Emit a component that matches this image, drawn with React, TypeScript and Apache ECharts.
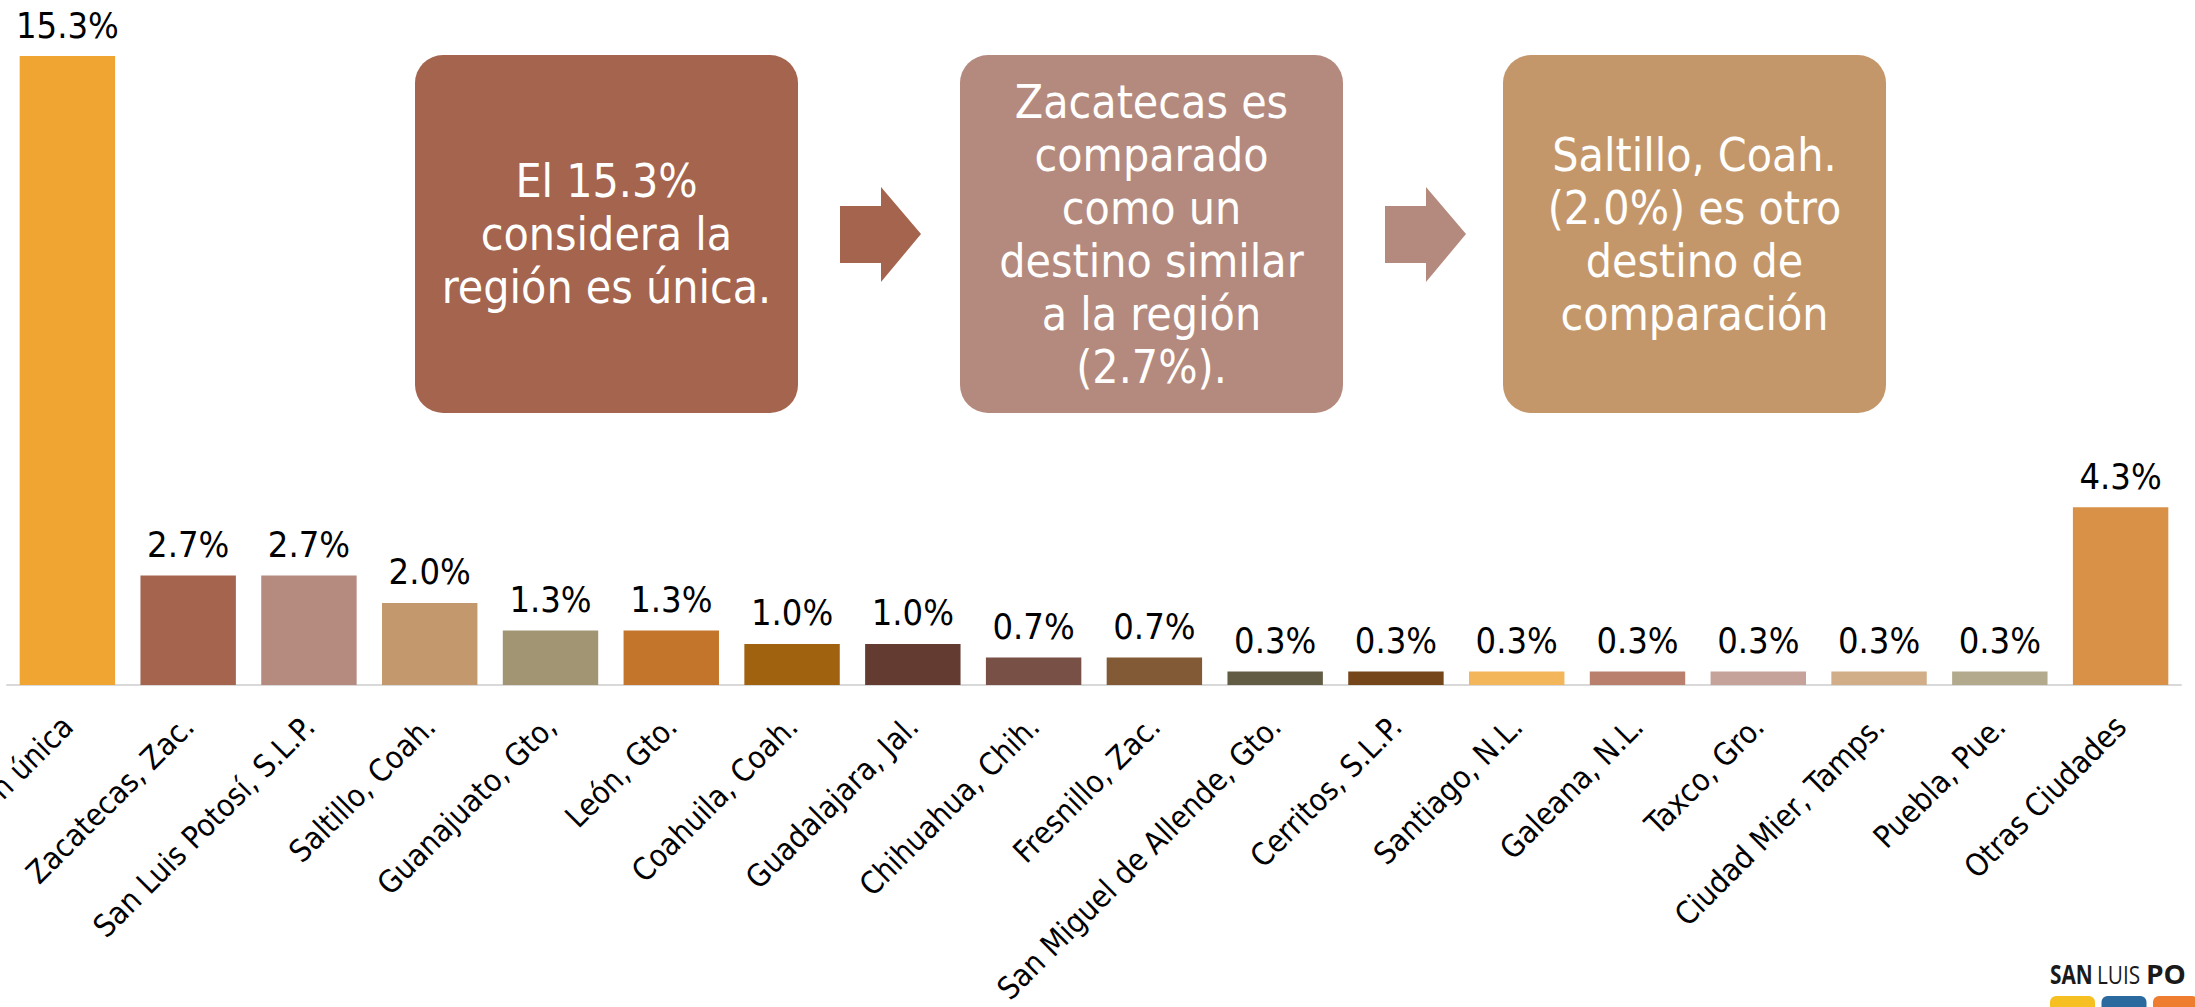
import React, { useEffect, useRef } from "react";
import * as echarts from "echarts";

const categories = [
  "Región única",
  "Zacatecas, Zac.",
  "San Luis Potosí, S.L.P.",
  "Saltillo, Coah.",
  "Guanajuato, Gto,",
  "León, Gto.",
  "Coahuila, Coah.",
  "Guadalajara, Jal.",
  "Chihuahua, Chih.",
  "Fresnillo, Zac.",
  "San Miguel de Allende, Gto.",
  "Cerritos, S.L.P.",
  "Santiago, N.L.",
  "Galeana, N.L.",
  "Taxco, Gro.",
  "Ciudad Mier, Tamps.",
  "Puebla, Pue.",
  "Otras Ciudades",
];

const values = [
  15.33, 2.67, 2.67, 2.0, 1.33, 1.33, 1.0, 1.0, 0.67, 0.67, 0.33, 0.33, 0.33,
  0.33, 0.33, 0.33, 0.33, 4.33,
];

const barColors = [
  "#F0A431",
  "#A5644E",
  "#B58A7F",
  "#C4986D",
  "#A29574",
  "#C3762B",
  "#A0620E",
  "#643B31",
  "#785046",
  "#835A36",
  "#625C44",
  "#74461A",
  "#F3B65A",
  "#BA806E",
  "#C5A29A",
  "#D2AE88",
  "#B3AA8E",
  "#D99148",
];

const boxTexts = [
  "El 15.3%\nconsidera la\nregión es única.",
  "Zacatecas es\ncomparado\ncomo un\ndestino similar\na la región\n(2.7%).",
  "Saltillo, Coah.\n(2.0%) es otro\ndestino de\ncomparación",
];
const boxColors = ["#A5644E", "#B58A7E", "#C4976A"];
const arrowColors = ["#A5644E", "#B58A7E"];

const logoWords = ["SAN", "LUIS", "PO"];
const logoColors = ["#F6C022", "#2A6A9E", "#EE7D30"];

const FONT = '"DejaVu Sans Condensed", "DejaVu Sans", sans-serif';
const LOGO_FONT = '"Open Sans", "Liberation Sans", sans-serif';

export default function App() {
  const ref = useRef<HTMLDivElement>(null);

  useEffect(() => {
    document.body.style.margin = "0";
    if (!ref.current) return;
    const chart = echarts.init(ref.current, null, { renderer: "svg" });

    const boxLefts = [415, 960, 1503];
    const boxW = 383;
    const boxTop = 55;
    const boxH = 358;
    const midY = boxTop + boxH / 2;

    const graphics: any[] = [];
    boxLefts.forEach((bx, i) => {
      graphics.push({
        type: "rect",
        shape: { x: bx, y: boxTop, width: boxW, height: boxH, r: 28 },
        style: { fill: boxColors[i] },
        z: 10,
      });
      graphics.push({
        type: "text",
        style: {
          text: boxTexts[i],
          x: bx + boxW / 2,
          y: midY,
          align: "center",
          verticalAlign: "middle",
          fontSize: 46,
          lineHeight: 53,
          fontFamily: FONT,
          fill: "#FFFFFF",
        },
        z: 11,
      });
    });
    const arrowStarts = [840, 1385];
    arrowStarts.forEach((ax, i) => {
      graphics.push({
        type: "polygon",
        shape: {
          points: [
            [ax, 206],
            [ax + 41, 206],
            [ax + 41, 187],
            [ax + 81, midY],
            [ax + 41, 282],
            [ax + 41, 263],
            [ax, 263],
          ],
        },
        style: { fill: arrowColors[i] },
        z: 10,
      });
    });
    // logo
    const logoX = [2050, 2097, 2146];
    const logoScale = [0.8, 0.8, 1.08];
    const logoBold = [true, false, true];
    logoWords.forEach((w, i) => {
      graphics.push({
        type: "text",
        x: logoX[i],
        y: 987,
        scaleX: logoScale[i],
        style: {
          text: w,
          x: 0,
          y: 0,
          verticalAlign: "bottom",
          fontSize: 26,
          fontWeight: logoBold[i] ? "bold" : "normal",
          fontFamily: LOGO_FONT,
          fill: "#1A1A1A",
        },
        z: 10,
      });
    });
    logoColors.forEach((c, i) => {
      graphics.push({
        type: "rect",
        shape: { x: 2050 + i * 51.5, y: 996, width: 45, height: 30, r: 6 },
        style: { fill: c },
        z: 10,
      });
    });

    chart.setOption({
      animation: false,
      grid: {
        left: 7,
        right: 14,
        top: 56,
        bottom: 322,
        containLabel: false,
        outerBoundsMode: "none",
      },
      xAxis: {
        type: "category",
        data: categories,
        axisTick: { show: false },
        axisLine: { show: true, lineStyle: { color: "#D9D9D9", width: 2 } },
        axisLabel: {
          interval: 0,
          rotate: 45,
          margin: 36,
          fontSize: 31,
          color: "#000000",
          fontFamily: FONT,
        },
      },
      yAxis: {
        type: "value",
        min: 0,
        max: "dataMax",
        show: false,
        splitLine: { show: false },
      },
      series: [
        {
          type: "bar",
          barCategoryGap: "21%",
          data: values.map((v, i) => ({
            value: v,
            itemStyle: { color: barColors[i] },
          })),
          label: {
            show: true,
            position: "top",
            distance: 13,
            fontSize: 36,
            color: "#000000",
            fontFamily: FONT,
            formatter: (p: any) => Number(p.value).toFixed(1) + "%",
          },
        },
      ],
      graphic: graphics,
    });

    return () => {
      chart.dispose();
    };
  }, []);

  return <div ref={ref} style={{ width: 2195, height: 1007 }} />;
}
